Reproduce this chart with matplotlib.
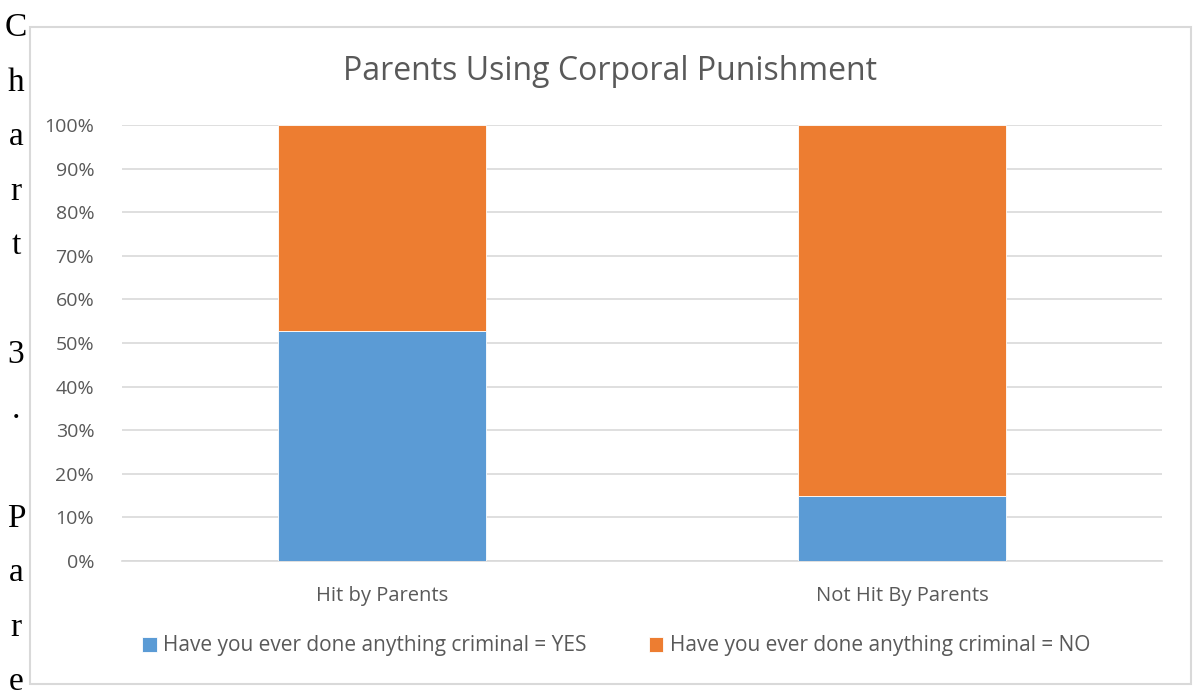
import matplotlib.pyplot as plt
from matplotlib.patches import Rectangle
import numpy as np

categories = ["Hit by Parents", "Not Hit By Parents"]
yes_share = [52.7, 14.9]
no_share = [47.3, 85.1]
series_labels = [
    "Have you ever done anything criminal = YES",
    "Have you ever done anything criminal = NO",
]
side_text = "Chart 3. Pare"

W, H = 1197, 698
fig = plt.figure(figsize=(W / 100, H / 100), dpi=100)
plt.rcParams["font.family"] = ["Open Sans", "DejaVu Sans"]

# outer chart frame
fig.patches.append(Rectangle((30 / W, 1 - 684 / H), 1161 / W, 657 / H,
                             transform=fig.transFigure, fill=False,
                             edgecolor="#d9d9d9", linewidth=1.5))

ax = fig.add_axes([122 / W, 1 - 561 / H, 1040 / W, 436 / H])
x = np.arange(len(categories))
blue = "#5b9bd5"
orange = "#ed7d31"
ax.bar(x, yes_share, 0.4, color=blue, label=series_labels[0], zorder=3,
       edgecolor="white", linewidth=0.6)
ax.bar(x, no_share, 0.4, bottom=yes_share, color=orange, label=series_labels[1],
       zorder=3, edgecolor="white", linewidth=0.6)

ax.set_xlim(-0.5, 1.5)
ax.set_ylim(0, 100)
ax.set_yticks(range(0, 101, 10))
ax.set_yticklabels([f"{v}%" for v in range(0, 101, 10)])
ax.yaxis.grid(True, color="#d9d9d9", linewidth=1.2, zorder=0)
ax.set_xticks(x)
ax.set_xticklabels(categories)
for s in ["top", "right", "left"]:
    ax.spines[s].set_visible(False)
ax.spines["bottom"].set_color("#d9d9d9")
ax.spines["bottom"].set_linewidth(1.2)
ax.tick_params(axis="y", length=0, pad=20, labelsize=14, labelcolor="#595959")
ax.tick_params(axis="x", length=0, pad=18, labelsize=14.5, labelcolor="#595959")

fig.text(610 / W, 1 - 71 / H, "Parents Using Corporal Punishment",
         ha="center", va="center", fontsize=23, color="#595959")

leg = fig.legend(loc="center", bbox_to_anchor=(616 / W, 1 - 646 / H), ncol=2,
                 frameon=False, fontsize=15, handlelength=0.7,
                 handleheight=0.7, handletextpad=0.3, columnspacing=3.0)
for t in leg.get_texts():
    t.set_color("#595959")

# vertical caption text on the left edge
ys = np.linspace(28, 682, len(side_text))
for ch, yy in zip(side_text, ys):
    if ch != " ":
        fig.text(16 / W, 1 - yy / H, ch, ha="center", va="center",
                 fontsize=24, family="Liberation Serif", color="black")

fig.savefig("out.png", dpi=100)
